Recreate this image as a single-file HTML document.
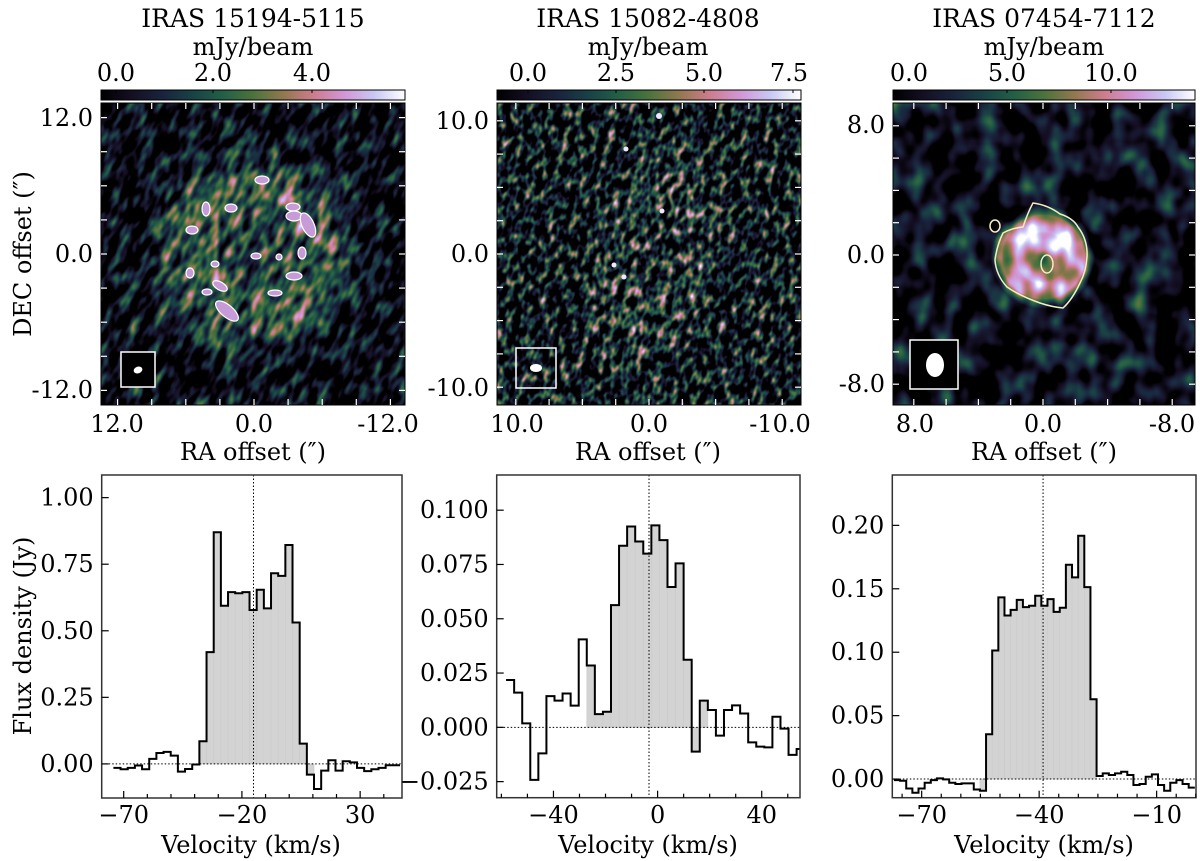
<!DOCTYPE html>
<html><head><meta charset="utf-8">
<style>
html,body{margin:0;padding:0;background:#fff;}
svg{display:block;font-family:"DejaVu Serif","Liberation Serif",serif;}
text{font-size:24px;fill:#000;}
text.t{font-size:25px;}
</style></head>
<body>
<svg id="fig" width="1200" height="861" viewBox="0 0 1200 861" xmlns="http://www.w3.org/2000/svg">
<defs>
  <linearGradient id="cmap" x1="0" x2="1" y1="0" y2="0">
    <stop offset="0" stop-color="#000000"/><stop offset="0.1" stop-color="#140f23"/>
    <stop offset="0.2" stop-color="#19233c"/><stop offset="0.3" stop-color="#194146"/>
    <stop offset="0.4" stop-color="#235f46"/><stop offset="0.5" stop-color="#4b733c"/>
    <stop offset="0.6" stop-color="#917850"/><stop offset="0.7" stop-color="#cd7d8c"/>
    <stop offset="0.8" stop-color="#d296d7"/><stop offset="0.9" stop-color="#c8c8f5"/>
    <stop offset="1" stop-color="#ffffff"/>
  </linearGradient>
  <radialGradient id="src1" cx="253" cy="253" r="150" gradientUnits="userSpaceOnUse">
    <stop offset="0" stop-color="#444"/><stop offset="0.3" stop-color="#777"/>
    <stop offset="0.5" stop-color="#888"/><stop offset="0.62" stop-color="#444"/><stop offset="0.8" stop-color="#000"/>
  </radialGradient>
  <radialGradient id="src2" cx="655" cy="255" r="130" gradientUnits="userSpaceOnUse" gradientTransform="translate(655 255) scale(0.55 1) translate(-655 -255)">
    <stop offset="0" stop-color="#333"/><stop offset="0.5" stop-color="#777"/>
    <stop offset="0.85" stop-color="#555"/><stop offset="1" stop-color="#222"/>
  </radialGradient>
  <radialGradient id="src3" cx="1043" cy="257" r="52" gradientUnits="userSpaceOnUse">
    <stop offset="0" stop-color="#555"/><stop offset="0.22" stop-color="#888"/>
    <stop offset="0.5" stop-color="#f2f2f2"/><stop offset="0.8" stop-color="#d0d0d0"/>
    <stop offset="1" stop-color="#000"/>
  </radialGradient>
  <filter id="nz1" x="0" y="0" width="100%" height="100%" color-interpolation-filters="sRGB">
    <feTurbulence type="fractalNoise" baseFrequency="0.11 0.05" numOctaves="2" seed="4" result="t"/>
    <feColorMatrix in="t" type="matrix" values="1 0 0 0 0  1 0 0 0 0  1 0 0 0 0  0 0 0 0 1" result="g"/>
    <feComposite in="g" in2="SourceGraphic" operator="arithmetic" k1="0" k2="1.4" k3="0.7" k4="-0.64" result="c"/>
    <feComponentTransfer in="c">
      <feFuncR type="table" tableValues="0 .08 .1 .1 .14 .29 .57 .8 .82 .78 1"/>
      <feFuncG type="table" tableValues="0 .06 .14 .25 .37 .45 .47 .49 .59 .78 1"/>
      <feFuncB type="table" tableValues="0 .14 .24 .27 .27 .24 .31 .55 .84 .96 1"/>
    </feComponentTransfer>
  </filter>
  <filter id="nz2" x="0" y="0" width="100%" height="100%" color-interpolation-filters="sRGB">
    <feTurbulence type="fractalNoise" baseFrequency="0.14 0.09" numOctaves="2" seed="9" result="t"/>
    <feColorMatrix in="t" type="matrix" values="1 0 0 0 0  1 0 0 0 0  1 0 0 0 0  0 0 0 0 1" result="g"/>
    <feComposite in="g" in2="SourceGraphic" operator="arithmetic" k1="0" k2="2.1" k3="0.5" k4="-1.0" result="c"/>
    <feComponentTransfer in="c">
      <feFuncR type="table" tableValues="0 .08 .1 .1 .14 .29 .57 .8 .82 .78 1"/>
      <feFuncG type="table" tableValues="0 .06 .14 .25 .37 .45 .47 .49 .59 .78 1"/>
      <feFuncB type="table" tableValues="0 .14 .24 .27 .27 .24 .31 .55 .84 .96 1"/>
    </feComponentTransfer>
  </filter>
  <filter id="nz3" x="0" y="0" width="100%" height="100%" color-interpolation-filters="sRGB">
    <feTurbulence type="fractalNoise" baseFrequency="0.045 0.035" numOctaves="2" seed="2" result="t"/>
    <feColorMatrix in="t" type="matrix" values="1 0 0 0 0  1 0 0 0 0  1 0 0 0 0  0 0 0 0 1" result="g"/>
    <feComposite in="g" in2="SourceGraphic" operator="arithmetic" k1="0" k2="1.2" k3="0.85" k4="-0.52" result="c"/>
    <feComponentTransfer in="c">
      <feFuncR type="table" tableValues="0 .08 .1 .1 .14 .29 .57 .8 .82 .78 1"/>
      <feFuncG type="table" tableValues="0 .06 .14 .25 .37 .45 .47 .49 .59 .78 1"/>
      <feFuncB type="table" tableValues="0 .14 .24 .27 .27 .24 .31 .55 .84 .96 1"/>
    </feComponentTransfer>
  </filter>
  <clipPath id="cm1"><rect x="101" y="103" width="304" height="302"/></clipPath>
  <clipPath id="cm2"><rect x="497" y="103" width="304" height="302"/></clipPath>
  <clipPath id="cm3"><rect x="893" y="103" width="302" height="302"/></clipPath>
</defs>

<text class="t" x="253" y="27" text-anchor="middle">IRAS 15194-5115</text>
<text class="t" x="648" y="27" text-anchor="middle">IRAS 15082-4808</text>
<text class="t" x="1044" y="27" text-anchor="middle">IRAS 07454-7112</text>
<text x="253" y="55" text-anchor="middle">mJy/beam</text>
<text x="648" y="55" text-anchor="middle">mJy/beam</text>
<text x="1044" y="55" text-anchor="middle">mJy/beam</text>

<g>
<rect x="101" y="90" width="304" height="10" fill="url(#cmap)" stroke="#000" stroke-width="1"/>
<text x="116" y="81" text-anchor="middle">0.0</text><text x="213" y="81" text-anchor="middle">2.0</text><text x="312" y="81" text-anchor="middle">4.0</text>
<path d="M116 90v3M213 90v3M312 90v3" stroke="#000"/>
</g>
<g>
<rect x="497" y="90" width="304" height="10" fill="url(#cmap)" stroke="#000" stroke-width="1"/>
<text x="528" y="81" text-anchor="middle">0.0</text><text x="616" y="81" text-anchor="middle">2.5</text><text x="704" y="81" text-anchor="middle">5.0</text><text x="789" y="81" text-anchor="middle">7.5</text>
<path d="M528 90v3M616 90v3M704 90v3M793 90v3" stroke="#000"/>
</g>
<g>
<rect x="893" y="90" width="302" height="10" fill="url(#cmap)" stroke="#000" stroke-width="1"/>
<text x="909" y="81" text-anchor="middle">0.0</text><text x="1007" y="81" text-anchor="middle">5.0</text><text x="1111" y="81" text-anchor="middle">10.0</text>
<path d="M1007 90v3M1111 90v3" stroke="#000"/>
</g>

<g clip-path="url(#cm1)">
  <rect x="101" y="103" width="304" height="302" fill="#000"/>
  <g transform="rotate(25 253 254)"><rect x="20" y="20" width="470" height="470" fill="url(#src1)" filter="url(#nz1)"/></g>
  <g fill="#c79ad8" stroke="#fff" stroke-width="1.2">
    <ellipse cx="262" cy="180" rx="7" ry="4"/><ellipse cx="293" cy="207" rx="7" ry="4"/>
    <ellipse cx="294" cy="216" rx="8" ry="5"/><ellipse cx="308" cy="225" rx="6" ry="13" transform="rotate(-25 308 225)"/>
    <ellipse cx="206" cy="209" rx="4" ry="7"/><ellipse cx="231" cy="208" rx="6" ry="4"/>
    <ellipse cx="192" cy="230" rx="6" ry="4"/><ellipse cx="256" cy="256" rx="5" ry="3"/>
    <ellipse cx="302" cy="253" rx="4" ry="6"/><ellipse cx="279" cy="257" rx="3" ry="3"/>
    <ellipse cx="220" cy="286" rx="8" ry="4" transform="rotate(30 220 286)"/>
    <ellipse cx="294" cy="276" rx="8" ry="4"/><ellipse cx="227" cy="311" rx="14" ry="6" transform="rotate(40 227 311)"/>
    <ellipse cx="190" cy="273" rx="4" ry="5"/><ellipse cx="215" cy="264" rx="4" ry="3"/>
    <ellipse cx="275" cy="293" rx="7" ry="3"/><ellipse cx="207" cy="292" rx="5" ry="3"/>
  </g>
  <rect x="121" y="352" width="34" height="35" fill="#000" stroke="#fff" stroke-width="1.5"/>
  <ellipse cx="138" cy="370" rx="4.5" ry="3.3" fill="#fff" transform="rotate(-20 138 370)"/>
</g>
<rect x="101" y="103" width="304" height="302" fill="none" stroke="#000" stroke-width="1"/>

<g clip-path="url(#cm2)">
  <rect x="497" y="103" width="304" height="302" fill="#000"/>
  <g transform="rotate(15 649 254)"><rect x="420" y="20" width="460" height="470" fill="url(#src2)" filter="url(#nz2)"/></g>
  <g fill="#f0e8ff"><circle cx="659" cy="116" r="3"/><circle cx="626" cy="149" r="2.5"/><circle cx="662" cy="211" r="2.5"/><circle cx="614" cy="265" r="2.5"/><circle cx="624" cy="277" r="2.5"/></g>
  <rect x="516" y="348" width="40" height="40" fill="none" stroke="#fff" stroke-width="1.5"/>
  <ellipse cx="536" cy="368" rx="6" ry="4" fill="#fff"/>
</g>
<rect x="497" y="103" width="304" height="302" fill="none" stroke="#000" stroke-width="1"/>

<g clip-path="url(#cm3)">
  <rect x="893" y="103" width="302" height="302" fill="#000"/>
  <rect x="893" y="103" width="302" height="302" fill="url(#src3)" filter="url(#nz3)"/>
  <path d="M1033 203 Q1048 205 1060 214 Q1073 218 1078 227 Q1088 240 1087 257 Q1086 272 1080 283 Q1072 300 1063 308 Q1052 307 1040 303 Q1020 296 1007 287 Q996 275 995 260 Q997 245 1003 233 Q1012 228 1023 227 Q1028 212 1033 203 Z" fill="none" stroke="#f0f0c0" stroke-width="1.5"/>
  <ellipse cx="995" cy="226" rx="5" ry="6" fill="none" stroke="#f0f0c0" stroke-width="1.5"/>
  <ellipse cx="1047" cy="264" rx="6" ry="9" fill="none" stroke="#f0f0c0" stroke-width="1.5"/>
  <rect x="910" y="340" width="48" height="49" fill="#000" stroke="#fff" stroke-width="1.5"/>
  <ellipse cx="935" cy="365" rx="9" ry="12" fill="#fff"/>
</g>
<rect x="893" y="103" width="302" height="302" fill="none" stroke="#000" stroke-width="1"/>

<g>
<text x="93" y="126" text-anchor="end">12.0</text><text x="93" y="262" text-anchor="end">0.0</text><text x="93" y="398" text-anchor="end">-12.0</text>
<text x="117" y="432" text-anchor="middle">12.0</text><text x="254" y="432" text-anchor="middle">0.0</text><text x="388" y="432" text-anchor="middle">-12.0</text>
<text x="489" y="129" text-anchor="end">10.0</text><text x="489" y="262" text-anchor="end">0.0</text><text x="489" y="396" text-anchor="end">-10.0</text>
<text x="517" y="432" text-anchor="middle">10.0</text><text x="649" y="432" text-anchor="middle">0.0</text><text x="780" y="432" text-anchor="middle">-10.0</text>
<text x="885" y="133" text-anchor="end">8.0</text><text x="885" y="263" text-anchor="end">0.0</text><text x="885" y="392" text-anchor="end">-8.0</text>
<text x="915" y="432" text-anchor="middle">8.0</text><text x="1043" y="432" text-anchor="middle">0.0</text><text x="1172" y="432" text-anchor="middle">-8.0</text>
</g>
<text x="253" y="460" text-anchor="middle">RA offset (″)</text>
<text x="648" y="460" text-anchor="middle">RA offset (″)</text>
<text x="1044" y="460" text-anchor="middle">RA offset (″)</text>
<text x="0" y="0" text-anchor="middle" transform="translate(31 254) rotate(-90)">DEC offset (″)</text>
<text x="0" y="0" text-anchor="middle" transform="translate(31 636) rotate(-90)">Flux density (Jy)</text>
<text x="251" y="853" text-anchor="middle">Velocity (km/s)</text>
<text x="648" y="853" text-anchor="middle">Velocity (km/s)</text>
<text x="1044" y="853" text-anchor="middle">Velocity (km/s)</text>
<g id="dyn"></g>
</svg>
<script>
const p1Start = -74.35, p1Step = 3.03;
const p1Values = [-0.015,-0.02,-0.015,-0.006,-0.02,0.019,0.041,0.045,0.031,-0.029,-0.019,-0.002,0.085,0.42,0.87,0.594,0.645,0.641,0.645,0.578,0.654,0.584,0.716,0.706,0.822,0.531,0.076,-0.04,-0.094,-0.025,0.014,-0.025,0.01,0.006,-0.015,-0.027,-0.02,-0.015,-0.005,-0.005];
const p1Shade = [12, 27];
const p1Center = -15.1;
const p1YTicks = [0, 0.25, 0.5, 0.75, 1.0];
const p1YLabels = ["0.00","0.25","0.50","0.75","1.00"];
const p1XTicks = [-70, -20, 30];
const p1XLabels = ["−70","−20","30"];

const p2Start = -58.2, p2Step = 3.1;
const p2Values = [0.0218,0.016,0.0018,-0.0242,-0.012,0.0144,0.0123,0.0156,0.010,0.0405,0.0285,0.0061,0.0072,0.0563,0.0836,0.0925,0.0856,0.080,0.093,0.0862,0.0646,0.0755,0.0311,-0.0112,0.0123,0.008,-0.0038,0.008,0.0101,0.0064,-0.0069,-0.0089,-0.0092,0.0049,-0.0006,-0.0127,-0.010];
const p2Shade = [10, 24];
const p2Center = -3.3;
const p2YTicks = [-0.025, 0, 0.025, 0.05, 0.075, 0.1];
const p2YLabels = ["−0.025","0.000","0.025","0.050","0.075","0.100"];
const p2XTicks = [-40, 0, 40];
const p2XLabels = ["−40","0","40"];

const p3Start = -77.08, p3Step = 1.568;
const p3Values = [-0.0008,-0.0013,-0.0074,-0.0108,-0.0074,-0.0029,-0.0008,0.0005,-0.0003,-0.0029,-0.0039,-0.0034,-0.0034,-0.0082,-0.0092,0.0353,0.1013,0.1432,0.1289,0.1334,0.1413,0.1355,0.1366,0.1445,0.1366,0.1418,0.1318,0.135,0.1689,0.159,0.1918,0.1513,0.0629,0.0024,0.0045,0.0032,0.0045,0.0058,0.0032,-0.0047,-0.0039,0.0018,0.0037,-0.0047,-0.0092,-0.0029,-0.0008,-0.0039,-0.0068];
const p3Shade = [14, 32];
const p3Center = -39.0;
const p3YTicks = [0, 0.05, 0.1, 0.15, 0.2];
const p3YLabels = ["0.00","0.05","0.10","0.15","0.20"];
const p3XTicks = [-70, -40, -10];
const p3XLabels = ["−70","−40","−10"];

const NS = "http://www.w3.org/2000/svg";
const dyn = document.getElementById("dyn");
function mk(tag, attrs, parent) {
  const e = document.createElementNS(NS, tag);
  for (const k in attrs) e.setAttribute(k, attrs[k]);
  (parent || dyn).appendChild(e);
  return e;
}

function spectrum(id, box, xlim, ylim, start, step, vals, shade, center, yt, yl, xt, xl, minorStep) {
  const sx = v => box.x0 + (v - xlim[0]) / (xlim[1] - xlim[0]) * (box.x1 - box.x0);
  const sy = v => box.y1 - (v - ylim[0]) / (ylim[1] - ylim[0]) * (box.y1 - box.y0);
  const g = mk("g", {});
  
  
  const cp = mk("clipPath", {id: "cp" + id}, g);
  mk("rect", {x: box.x0, y: box.y0, width: box.x1 - box.x0, height: box.y1 - box.y0}, cp);
  const inner = mk("g", {"clip-path": "url(#cp" + id + ")"}, g);
  for (let i = shade[0]; i <= shade[1]; i++) {
    const a = sx(start + i * step), b = sx(start + (i + 1) * step);
    const y0 = sy(0), y1 = sy(vals[i]);
    const r = mk("rect", {x: a, y: Math.min(y0, y1), width: b - a, height: Math.abs(y1 - y0), fill: "#d3d3d3", stroke: "#cbcbcb", "stroke-width": 0.6}, inner);
    
    
  }
  const hz = mk("line", {x1: box.x0, x2: box.x1, y1: sy(0), y2: sy(0), stroke: "#000", "stroke-width": 1, "stroke-dasharray": "1.5 2"}, inner);
  
  
  const vl = mk("line", {x1: sx(center), x2: sx(center), y1: box.y0, y2: box.y1, stroke: "#000", "stroke-width": 1, "stroke-dasharray": "1.5 2"}, inner);
  
  
  let d = "M" + sx(start) + " " + sy(vals[0]);
  for (let i = 0; i < vals.length; i++) {
    if (i > 0) d += " V" + sy(vals[i]);
    d += " H" + sx(start + (i + 1) * step);
  }
  const ln = mk("path", {d: d, fill: "none", stroke: "#000", "stroke-width": 2}, inner);
  
  
  const fr = mk("rect", {x: box.x0, y: box.y0, width: box.x1 - box.x0, height: box.y1 - box.y0, fill: "none", stroke: "#333", "stroke-width": 1.5}, g);
  
  
  yt.forEach((v, i) => {
    const y = sy(v);
    mk("line", {x1: box.x0, x2: box.x0 + 7, y1: y, y2: y, stroke: "#000", "stroke-width": 1.2}, g);
    const t = mk("text", {x: box.x0 - 8, y: y + 8, "text-anchor": "end"}, g);
    t.textContent = yl[i];
    
    
  });
  for (let v = Math.ceil(xlim[0] / minorStep) * minorStep; v <= xlim[1]; v += minorStep) {
    const major = xt.indexOf(Math.round(v)) >= 0;
    mk("line", {x1: sx(v), x2: sx(v), y1: box.y1, y2: box.y1 - (major ? 7 : 4), stroke: "#000", "stroke-width": 1.2}, g);
  }
  xt.forEach((v, i) => {
    const t = mk("text", {x: sx(v), y: 823, "text-anchor": "middle"}, g);
    t.textContent = xl[i];
    
    
  });
}
spectrum("1", {x0: 101.7, x1: 402, y0: 475, y1: 798}, [-79.3, 47.7], [-0.128, 1.085], p1Start, p1Step, p1Values, p1Shade, p1Center, p1YTicks, p1YLabels, p1XTicks, p1XLabels, 10);
spectrum("2", {x0: 496.7, x1: 800, y0: 475, y1: 797.7}, [-61.8, 54.7], [-0.0324, 0.1162], p2Start, p2Step, p2Values, p2Shade, p2Center, p2YTicks, p2YLabels, p2XTicks, p2XLabels, 10);
spectrum("3", {x0: 892.3, x1: 1196, y0: 475, y1: 797.7}, [-77.5, 0.05], [-0.0147, 0.2397], p3Start, p3Step, p3Values, p3Shade, p3Center, p3YTicks, p3YLabels, p3XTicks, p3XLabels, 5);

function mapTicks(x0, y0, w, h, cx, cy, sp) {
  const g = mk("g", {stroke: "#fff", "stroke-width": 1.2});
  
  
  for (let k = -6; k <= 6; k++) {
    const x = cx + k * sp, y = cy + k * sp;
    if (x > x0 + 2 && x < x0 + w - 2) {
      mk("line", {x1: x, x2: x, y1: y0 + h, y2: y0 + h - 6}, g);
      mk("line", {x1: x, x2: x, y1: y0, y2: y0 + 6}, g);
    }
    if (y > y0 + 2 && y < y0 + h - 2) {
      mk("line", {x1: x0, x2: x0 + 6, y1: y, y2: y}, g);
      mk("line", {x1: x0 + w, x2: x0 + w - 6, y1: y, y2: y}, g);
    }
  }
}
mapTicks(101, 103, 304, 302, 254, 254, 34.1);
mapTicks(497, 103, 304, 302, 649, 254, 33.3);
mapTicks(893, 103, 302, 302, 1043, 255, 32.3);
</script>
</body></html>
